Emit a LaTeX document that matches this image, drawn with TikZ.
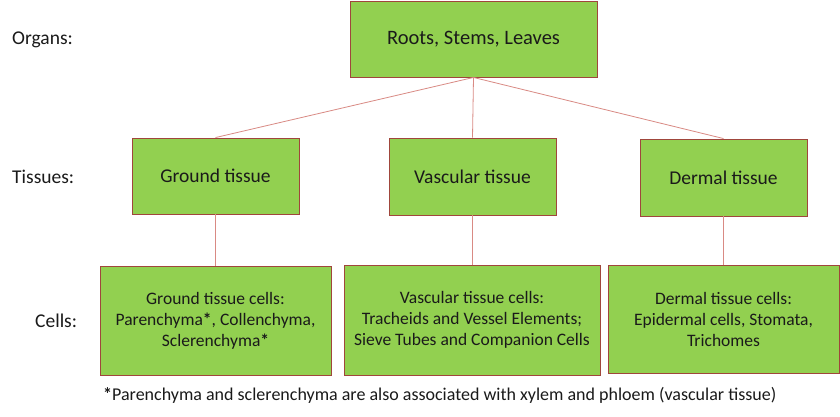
\documentclass[tikz,border=0pt]{standalone}
\usepackage{fontspec}
\setmainfont{Carlito}
\definecolor{boxfill}{HTML}{92D050}
\definecolor{boxedge}{HTML}{A0463C}
\definecolor{linkc}{HTML}{D98A84}
\definecolor{txt}{HTML}{1A1A1A}
\begin{document}
\begin{tikzpicture}[x=1pt,y=-1pt,
  box/.style={draw=boxedge,line width=0.9pt,fill=boxfill,inner sep=0pt,align=center,text=txt},
  link/.style={draw=linkc,line width=0.8pt},
  lbl/.style={anchor=west,inner sep=0pt,text=txt,font=\fontsize{19.5}{22}\selectfont}]
\useasboundingbox[fill=white] (0,0) rectangle (840,416);
\node[box,minimum width=247pt,minimum height=76pt,font=\fontsize{20.5}{24}\selectfont] (roots) at (473.5,39) {Roots, Stems, Leaves};
\node[box,minimum width=167pt,minimum height=76pt,font=\fontsize{19.5}{22}\selectfont] (ground) at (215.5,176) {Ground tissue};
\node[box,minimum width=167pt,minimum height=77pt,font=\fontsize{19.5}{22}\selectfont] (vasc) at (472.5,176.5) {Vascular tissue};
\node[box,minimum width=167pt,minimum height=77pt,font=\fontsize{19.5}{22}\selectfont] (derm) at (723.5,177.5) {Dermal tissue};
\node[box,minimum width=231pt,minimum height=109pt,font=\fontsize{17.5}{21}\selectfont] (gcells) at (215.5,320.5) {Ground tissue cells:\\Parenchyma\textbf{*}, Collenchyma,\\Sclerenchyma\textbf{*}};
\node[box,minimum width=256pt,minimum height=110pt,font=\fontsize{17.5}{21}\selectfont] (vcells) at (472,320) {Vascular tissue cells:\\Tracheids and Vessel Elements;\\Sieve Tubes and Companion Cells};
\node[box,minimum width=231pt,minimum height=108pt,font=\fontsize{17.5}{21}\selectfont] (dcells) at (723.5,319) {Dermal tissue cells:\\Epidermal cells, Stomata,\\Trichomes};
\draw[link] (roots.south) -- (ground.north);
\draw[link] (roots.south) -- (vasc.north);
\draw[link] (roots.south) -- (derm.north);
\draw[link] (ground.south) -- (gcells.north -| ground.south);
\draw[link] (vasc.south) -- (vcells.north -| vasc.south);
\draw[link] (derm.south) -- (dcells.north -| derm.south);
\node[lbl] (lorg) at (12,40) {Organs:};
\node[lbl] (ltis) at (12,177) {Tissues:};
\node[lbl] (lcel) at (35,321) {Cells:};
\node[anchor=west,inner sep=0pt,text=txt,font=\fontsize{18}{22}\selectfont] (foot) at (103,395) {\textbf{*}Parenchyma and sclerenchyma are also associated with xylem and phloem (vascular tissue)};
\end{tikzpicture}
\end{document}
